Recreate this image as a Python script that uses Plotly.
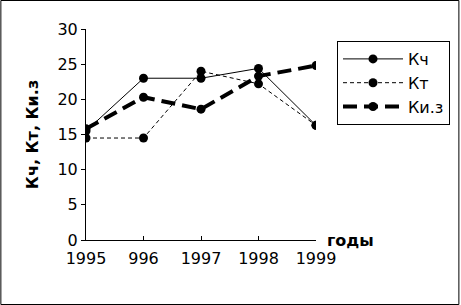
import plotly.graph_objects as go

years = [1995, 1996, 1997, 1998, 1999]
tick_labels = ["1995", "996", "1997", "1998", "1999"]
k_ch = [15.5, 23.0, 23.0, 24.4, 16.3]
k_t = [14.5, 14.5, 24.0, 22.2, 16.3]
k_iz = [15.8, 20.3, 18.6, 23.3, 24.8]

FONT = "DejaVu Sans"
fig = go.Figure()
fig.add_trace(go.Scatter(x=years, y=k_ch, name="Кч", mode="lines+markers",
                         line=dict(color="black", width=1),
                         marker=dict(color="black", size=9)))
fig.add_trace(go.Scatter(x=years, y=k_t, name="Кт", mode="lines+markers",
                         line=dict(color="black", width=1, dash="4px,3px"),
                         marker=dict(color="black", size=9)))
fig.add_trace(go.Scatter(x=years, y=k_iz, name="Ки.з", mode="lines+markers",
                         line=dict(color="black", width=4, dash="14px,7px"),
                         marker=dict(color="black", size=9)))

W, H = 461, 305
L, R, T, B = 86, 144, 29, 65
pw, ph = W - L - R, H - T - B

fig.update_layout(
    width=W, height=H,
    margin=dict(l=L, r=R, t=T, b=B),
    paper_bgcolor="white", plot_bgcolor="white",
    font=dict(family=FONT, size=16, color="black"),
    showlegend=True,
    legend=dict(x=(337 - L) / pw, y=(H - B - 41) / ph, xanchor="left", yanchor="top",
                bordercolor="black", borderwidth=1, bgcolor="white",
                itemwidth=60, tracegroupgap=0,
                font=dict(family=FONT, size=16)),
    xaxis=dict(range=[1995, 1999], tickvals=years, ticktext=tick_labels,
               showgrid=False, zeroline=False, showline=True, linecolor="black",
               linewidth=1, ticks="inside", ticklen=4, tickcolor="black",
               ticklabelstandoff=4, tickfont=dict(size=16)),
    yaxis=dict(range=[0, 30], dtick=5, showgrid=False, zeroline=False,
               showline=True, linecolor="black", linewidth=1,
               ticks="outside", ticklen=4, tickcolor="black", tickfont=dict(size=16),
               title=dict(text="<b>Кч, Кт, Ки.з</b>", font=dict(size=16), standoff=14)),
    shapes=[dict(type="rect", xref="paper", yref="paper",
                 x0=(0.5 - L) / pw, x1=(W - 0.5 - L) / pw,
                 y0=-(B - 0.5) / ph, y1=1 + (T - 0.5) / ph,
                 line=dict(color="black", width=1))],
    annotations=[dict(text="<b>годы</b>", xref="paper", yref="paper",
                      x=(326 - L) / pw, y=0, xanchor="left", yanchor="middle",
                      showarrow=False, font=dict(size=16))],
)
fig.write_html("out.html")
